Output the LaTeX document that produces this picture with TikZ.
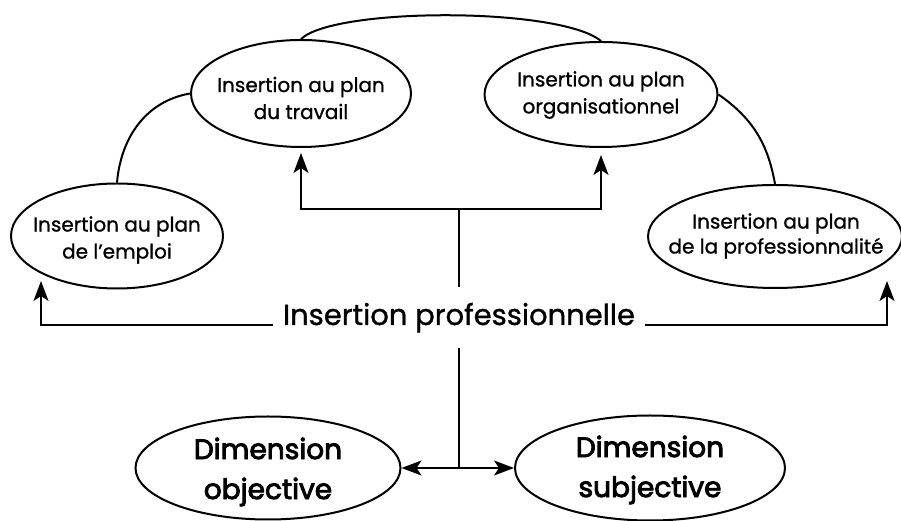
\documentclass[tikz,border=0pt]{standalone}
\usepackage{fontspec}
\setmainfont[FakeBold=1]{Poppins}
\newfontfamily\dimfont[FakeBold=3.2]{Poppins}
\usetikzlibrary{shapes.geometric,arrows.meta}
\begin{document}
\begin{tikzpicture}[x=1pt,y=1pt,
  ell/.style={draw, ellipse, inner sep=0pt, line width=2pt},
  lab/.style={align=center, font=\fontsize{20}{27}\selectfont},
  dimlab/.style={align=center, font=\dimfont\fontsize{28}{40}\selectfont},
  conn/.style={line width=2pt},
  arr/.style={conn, -{Stealth[length=20pt,width=15pt,inset=5pt]}}
]
\useasboundingbox (0,0) rectangle (901,521);

% ellipses
\node[ell, minimum width=212pt, minimum height=105pt] (emploi) at (117,285) {};
\node[ell, minimum width=220pt, minimum height=107pt] (travail) at (301,427.5) {};
\node[ell, minimum width=233pt, minimum height=105pt] (orga) at (601,426.5) {};
\node[ell, minimum width=254pt, minimum height=103pt] (prof) at (775,284.5) {};
\node[ell, minimum width=265pt, minimum height=103pt] (obj) at (268,53) {};
\node[ell, minimum width=270pt, minimum height=105pt] (subj) at (650,53) {};

% labels
\node[lab] (emploiT) at (117,281) {Insertion au plan\\de l’emploi};
\node[lab] (travailT) at (301,423) {Insertion au plan\\du travail};
\node[lab] (orgaT) at (601,426) {Insertion au plan\\organisationnel};
\node[lab, font=\fontsize{20}{25}\selectfont] (profT) at (776,285) {Insertion au plan\\de la professionnalité};
\node[dimlab] (objT) at (268,49) {Dimension\\objective};
\node[dimlab] (subjT) at (650,51) {Dimension\\subjective};

% central label
\node[font=\fontsize{29}{34}\selectfont, anchor=base, text height=22pt, text depth=7pt,
      inner xsep=10pt, inner ysep=16pt] (main) at (459,196) {Insertion professionnelle};

% junctions and free ends
\coordinate (j1) at (459,312);
\coordinate (j2) at (459,53);
\coordinate (eTip) at (41,240);
\coordinate (pTip) at (887,240);

% curved links between ellipses
\draw[conn] (emploi.north) to[out=85, in=190] (travail.west);
\draw[conn] (travail.north) .. controls (335,514) and (560,514) .. (orga.north);
\draw[conn] (orga.east) to[out=-35, in=100] (prof.north);

% arrows
\draw[conn] (j1) -- (main.north);
\draw[arr, shorten >=5pt] (j1) -| (travail.south);
\draw[arr, shorten >=7pt] (j1) -| (orga.south);
\draw[arr] (main.base west) -| (eTip);
\draw[arr] (main.base east) -| (pTip);
\draw[conn] (main.south) -- (j2);
\draw[arr] (j2) -- (obj.east);
\draw[arr] (j2) -- (subj.west);
\end{tikzpicture}
\end{document}
